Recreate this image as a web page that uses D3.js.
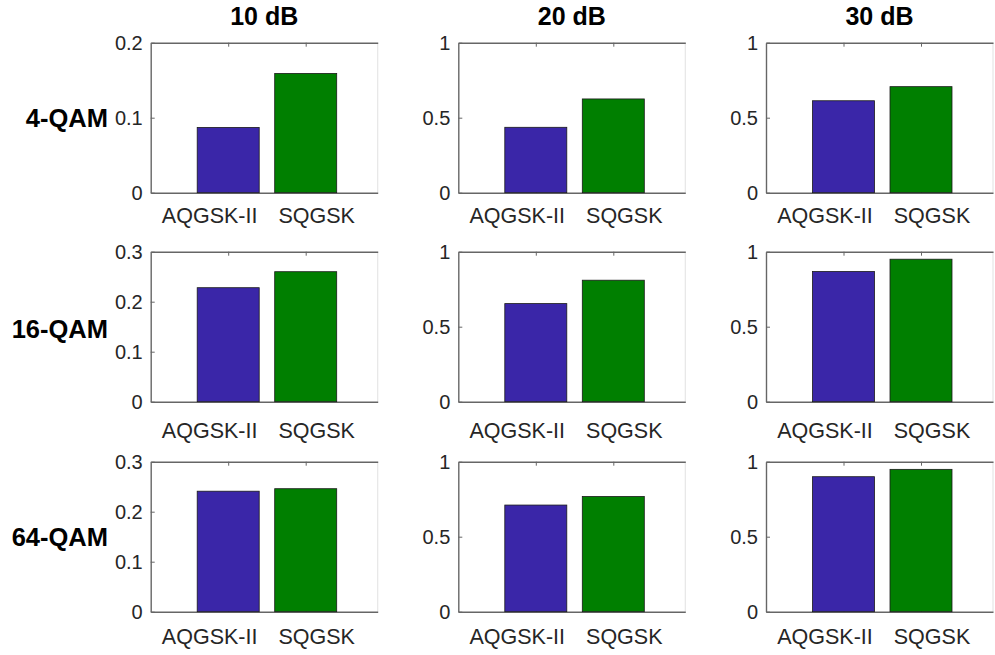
<!DOCTYPE html>
<html>
<head>
<meta charset="utf-8">
<script src="https://cdn.jsdelivr.net/npm/d3@7"></script>
<style>
  html, body { margin: 0; padding: 0; background: #fff; }
  svg { display: block; font-family: "Liberation Sans", Arial, sans-serif; }
</style>
</head>
<body>
<svg id="chart" width="995" height="655"></svg>
<script>
// ---- data ----
const snrLabels = ["10 dB", "20 dB", "30 dB"];
const modLabels = ["4-QAM", "16-QAM", "64-QAM"];
const schemes = ["AQGSK-II", "SQGSK"];
// rows: modulation, cols: SNR
const aqgskValues = [
  [0.087, 0.436, 0.613],
  [0.228, 0.654, 0.868],
  [0.241, 0.711, 0.900]
];
const sqgskValues = [
  [0.159, 0.625, 0.707],
  [0.260, 0.810, 0.950],
  [0.246, 0.768, 0.949]
];
const yMaxValues = [
  [0.2, 1, 1],
  [0.3, 1, 1],
  [0.3, 1, 1]
];
const yTickValues = {
  "0.2": [0, 0.1, 0.2],
  "0.3": [0, 0.1, 0.2, 0.3],
  "1": [0, 0.5, 1]
};

// ---- layout ----
const colLeft = [150.7, 458.3, 766];
const rowTop = [42.7, 251.7, 461.7];
const xLabelPad = [15, 21, 17];
const boxW = 227, boxH = 150;
const catSpacing = 77.5;
const colors = ["#3a26a8", "#007f00"];
const axisColor = "#666";
const textColor = "#262626";

const svg = d3.select("#chart");

snrLabels.forEach((t, c) => {
  svg.append("text")
    .attr("x", colLeft[c] + boxW / 2)
    .attr("y", 25)
    .attr("text-anchor", "middle")
    .attr("font-size", 25)
    .attr("font-weight", "bold")
    .attr("fill", "#000")
    .text(t);
});

modLabels.forEach((t, r) => {
  svg.append("text")
    .attr("x", 108)
    .attr("y", rowTop[r] + boxH / 2 + 9 + (r === 1 ? 2 : 0))
    .attr("text-anchor", "end")
    .attr("font-size", 25.5)
    .attr("font-weight", "bold")
    .attr("fill", "#000")
    .text(t);
});

for (let r = 0; r < 3; r++) {
  for (let c = 0; c < 3; c++) {
    const left = colLeft[c], top = rowTop[r];
    const yMax = yMaxValues[r][c];
    const x = d3.scaleLinear().domain([0, boxW / catSpacing]).range([left, left + boxW]);
    const y = d3.scaleLinear().domain([0, yMax]).range([top + boxH, top]);
    const g = svg.append("g");

    // right border (faint)
    g.append("line")
      .attr("x1", left + boxW).attr("x2", left + boxW)
      .attr("y1", top).attr("y2", top + boxH)
      .attr("stroke", "#e6e6e6").attr("stroke-width", 1.2);

    // top axis
    const topAx = g.append("g")
      .attr("transform", `translate(0,${top})`)
      .call(d3.axisTop(x).tickValues([1, 2]).tickSizeInner(-4).tickSizeOuter(0).tickFormat(""));
    // bottom axis
    const botAx = g.append("g")
      .attr("transform", `translate(0,${top + boxH})`)
      .call(d3.axisBottom(x).tickValues([1, 2]).tickSizeInner(-4).tickSizeOuter(0)
        .tickPadding(xLabelPad[r]).tickFormat((d, i) => schemes[i]));
    const mid = x(1.5);
    botAx.selectAll(".tick text")
      .attr("font-size", 21.5).attr("fill", textColor)
      .attr("font-family", "Liberation Sans, Arial, sans-serif")
      .attr("text-anchor", (d, i) => i === 0 ? "end" : "start")
      .attr("x", (d, i) => i === 0 ? mid - x(1) - 10 : mid - x(2) + 11);
    // left axis
    const leftAx = g.append("g")
      .attr("transform", `translate(${left},0)`)
      .call(d3.axisLeft(y).tickValues(yTickValues[String(yMax)]).tickSizeInner(-4).tickSizeOuter(0)
        .tickPadding(8).tickFormat(d => String(d)));
    leftAx.selectAll("text").attr("font-size", 20).attr("fill", textColor)
      .attr("font-family", "Liberation Sans, Arial, sans-serif");

    [topAx, botAx, leftAx].forEach(a => {
      a.selectAll("path.domain").attr("stroke", axisColor).attr("stroke-width", 1.4);
      a.selectAll(".tick line").attr("stroke", axisColor).attr("stroke-width", 1);
    });

    // bars
    const vals = [aqgskValues[r][c], sqgskValues[r][c]];
    g.selectAll("rect.bar")
      .data(vals)
      .join("rect")
      .attr("class", "bar")
      .attr("x", (d, i) => x(i + 1 - 0.4))
      .attr("width", (d, i) => x(i + 1 + 0.4) - x(i + 1 - 0.4))
      .attr("y", d => y(d))
      .attr("height", d => y(0) - y(d))
      .attr("fill", (d, i) => colors[i])
      .attr("stroke", "#1a1a1a")
      .attr("stroke-width", 0.8);
  }
}
</script>
</body>
</html>
